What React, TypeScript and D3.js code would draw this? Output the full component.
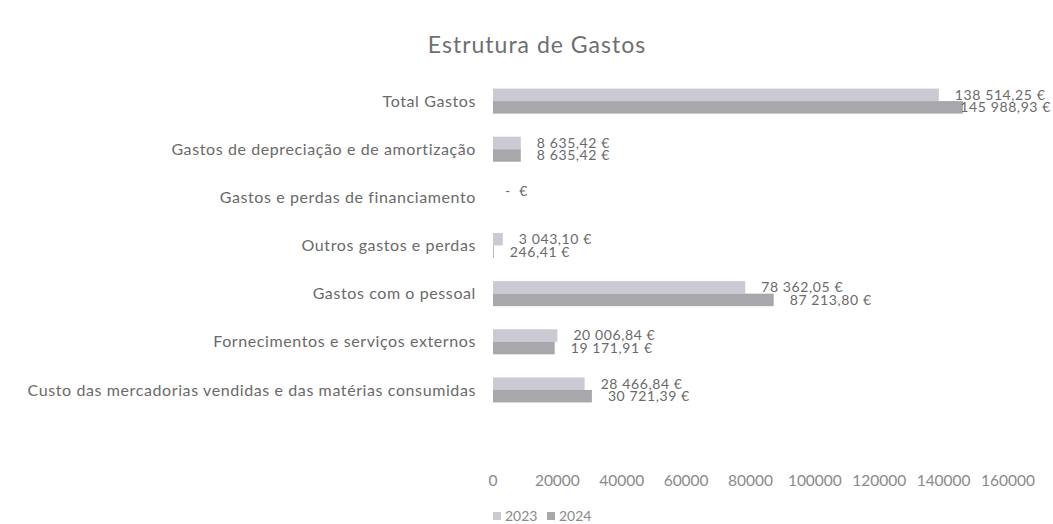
import React from "react";
import * as d3 from "d3";

const categories = [
  "Total Gastos",
  "Gastos de depreciação e de amortização",
  "Gastos e perdas de financiamento",
  "Outros gastos e perdas",
  "Gastos com o pessoal",
  "Fornecimentos e serviços externos",
  "Custo das mercadorias vendidas e das matérias consumidas",
];
const values2023: (number | null)[] = [138514.25, 8635.42, 0, 3043.1, 78362.05, 20006.84, 28466.84];
const values2024: (number | null)[] = [145988.93, 8635.42, null, 246.41, 87213.8, 19171.91, 30721.39];
const seriesNames = ["2023", "2024"];
const seriesColors = ["#c9cad4", "#a8a7ab"];
const tickValues = [0, 20000, 40000, 60000, 80000, 100000, 120000, 140000, 160000];
const title = "Estrutura de Gastos";

const W = 1053;
const H = 524;
const FONT = "Lato, 'Open Sans', sans-serif";

const locale = d3.formatLocale({
  decimal: ",",
  thousands: "\u00a0",
  grouping: [3],
  currency: ["", " €"],
});
const fmtNum = locale.format(",.2f");
const fmtLabel = (v: number) => (v === 0 ? "-  €" : `${fmtNum(v)} €`);

let ctx: CanvasRenderingContext2D | null = null;
function textWidth(s: string, font: string, spacing: number) {
  if (!ctx) ctx = document.createElement("canvas").getContext("2d");
  if (!ctx) return s.length * 8;
  ctx.font = font;
  return ctx.measureText(s).width + spacing * s.length;
}

export default function App() {
  const x = d3.scaleLinear().domain([0, 160000]).range([493, 1008]);
  const y = d3.scaleBand<string>().domain(categories).range([77, 414]).padding(0);
  const inner = d3
    .scaleBand<string>()
    .domain(seriesNames)
    .range([y.step() * 0.24, y.step() * 0.76])
    .padding(0);
  const series = [values2023, values2024];
  const labelSize = 14;
  const labelFont = `${labelSize}px ${FONT}`;
  const labelSpacing = 0.6;

  return (
    <svg
      width={W}
      height={H}
      style={{ position: "absolute", left: 0, top: 0, background: "#fff" }}
      fontFamily={FONT}
    >
      <rect x={0} y={0} width={W} height={H} fill="#fff" />
      <text x={537} y={53} textAnchor="middle" fontSize={23} letterSpacing={1} fill="#6f6f6f">
        {title}
      </text>
      {categories.map((c) => (
        <text
          key={c}
          x={476}
          y={(y(c) ?? 0) + y.step() / 2}
          dy="0.35em"
          textAnchor="end"
          fontSize={16}
          letterSpacing={0.6}
          fill="#6a6a6a"
        >
          {c}
        </text>
      ))}
      {series.map((vals, si) =>
        vals.map((v, i) => {
          if (v === null) return null;
          const c = categories[i];
          const by = (y(c) ?? 0) + (inner(seriesNames[si]) ?? 0);
          const bh = inner.bandwidth();
          const xe = x(v);
          const label = fmtLabel(v);
          const tw = textWidth(label, labelFont, labelSpacing);
          const lx = v === 0 ? xe + 12 : Math.min(xe + 16, 1051 - tw);
          return (
            <g key={`${si}-${i}`}>
              <rect x={x(0)} y={by} width={Math.max(0, xe - x(0))} height={bh} fill={seriesColors[si]} />
              <text
                x={lx}
                y={by + bh / 2}
                dy="0.35em"
                fontSize={labelSize}
                letterSpacing={labelSpacing}
                fill="#6a6a6a"
                style={{ whiteSpace: "pre" }}
              >
                {label}
              </text>
            </g>
          );
        })
      )}
      {tickValues.map((t) => (
        <text key={t} x={x(t)} y={481} dy="0.35em" textAnchor="middle" fontSize={15.5} fill="#8a8a8a">
          {t}
        </text>
      ))}
      {seriesNames.map((s, i) => {
        const lx = 493 + i * 54;
        return (
          <g key={s}>
            <rect x={lx} y={512} width={8} height={8} fill={seriesColors[i]} />
            <text x={lx + 12} y={516} dy="0.35em" fontSize={14} fill="#8a8a8a">
              {s}
            </text>
          </g>
        );
      })}
    </svg>
  );
}
